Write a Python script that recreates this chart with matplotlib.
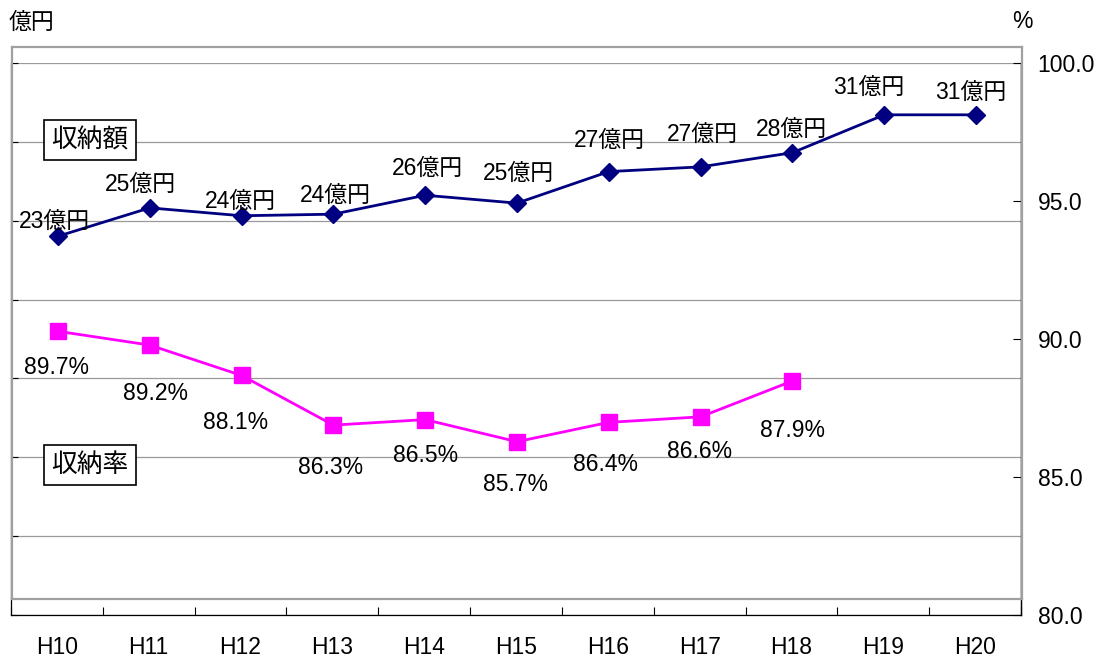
import numpy as np
import matplotlib.pyplot as plt

years = ['H10', 'H11', 'H12', 'H13', 'H14', 'H15', 'H16', 'H17', 'H18', 'H19', 'H20']
amount = [23.0, 24.8, 24.3, 24.4, 25.6, 25.1, 27.1, 27.4, 28.3, 30.7, 30.7]
amount_labels = ['23億円', '25億円', '24億円', '24億円', '26億円', '25億円',
                 '27億円', '27億円', '28億円', '31億円', '31億円']
rate = [89.7, 89.2, 88.1, 86.3, 86.5, 85.7, 86.4, 86.6, 87.9]
rate_ticks = [80, 85, 90, 95, 100]

# label offsets in pixels (dx, dy)
amount_off = [(-3, 15), (-9, 23), (-1, 14), (2, 19), (2, 27), (1, 30),
              (1, 31), (2, 32), (-1, 23), (-16, 27), (-5, 22)]
rate_off = [(-1, -36), (6, -48), (-6, -47), (-3, -42), (0, -36), (-1, -43),
            (-3, -42), (-1, -35), (0, -50)]

FONT = ['Liberation Sans', 'Noto Sans CJK JP']
plt.rcParams['font.family'] = FONT
FS = 16.5

W, H = 1101, 659
fig = plt.figure(figsize=(W / 100, H / 100), dpi=100)


def px_rect(l, t, r, b):
    return [l / W, 1 - b / H, (r - l) / W, (b - t) / H]


# axis frame with grid and ticks
ax = fig.add_axes(px_rect(11, 63, 1021, 615))
ax.set_xlim(-0.5, 10.5)
ax.set_ylim(0, 35)
ax.set_yticks(np.arange(0, 36, 5))
ax.set_yticklabels([])
ax.grid(axis='y', color='#9a9a9a', lw=0.9)
ax.set_axisbelow(True)
ax.spines['top'].set_visible(False)
for s in ['left', 'bottom', 'right']:
    ax.spines[s].set_linewidth(0.9)
ax.tick_params(axis='y', direction='in', length=5, width=0.8)
ax.set_xticks(range(len(years)))
ax.set_xticklabels(years, fontsize=FS)
ax.tick_params(axis='x', which='major', length=0, pad=15)
ax.set_xticks(np.arange(-0.5, len(years), 1), minor=True)
ax.tick_params(axis='x', which='minor', direction='in', length=6, width=0.8)

ax2 = ax.twinx()
ax2.set_ylim(80, 100)
ax2.set_yticks(rate_ticks)
ax2.set_yticklabels(['%.1f' % t for t in rate_ticks], fontsize=FS)
ax2.tick_params(axis='y', direction='in', length=6, width=0.8, pad=12)
for s in ['left', 'top', 'bottom']:
    ax2.spines[s].set_visible(False)
ax2.spines['right'].set_linewidth(0.9)

# plot area (drawn a bit higher, grey frame)
axd = fig.add_axes(px_rect(12, 47, 1022, 599))
axd.patch.set_alpha(0)
axd.set_xlim(-0.5, 10.5)
axd.set_ylim(0, 35)
axd.set_xticks([])
axd.set_yticks([])
for s in axd.spines.values():
    s.set_color('#a0a0a0')
    s.set_linewidth(1.6)

axd.plot(range(len(amount)), amount, color='#000080', lw=2,
         marker='D', ms=9, mfc='#000080', mec='#000080')
for i, (v, lab) in enumerate(zip(amount, amount_labels)):
    axd.annotate(lab, (i, v), xytext=amount_off[i], textcoords='offset pixels',
                 ha='center', va='center', fontsize=FS)

axd2 = axd.twinx()
axd2.set_ylim(80, 100)
axd2.set_yticks([])
for s in axd2.spines.values():
    s.set_visible(False)
axd2.plot(range(len(rate)), rate, color='#ff00ff', lw=2,
          marker='s', ms=11, mfc='#ff00ff', mec='#ff00ff')
for i, v in enumerate(rate):
    axd2.annotate('%.1f%%' % v, (i, v), xytext=rate_off[i], textcoords='offset pixels',
                  ha='center', va='center', fontsize=FS)

box = dict(boxstyle='square,pad=0.3', fc='white', ec='black', lw=1.2)
fig.text(90 / W, 1 - 140 / H, '収納額', fontsize=18.5, ha='center', va='center', bbox=box)
fig.text(90 / W, 1 - 465 / H, '収納率', fontsize=18.5, ha='center', va='center', bbox=box)

fig.text(31 / W, 1 - 22 / H, '億円', fontsize=FS, ha='center', va='center')
fig.text(1022 / W, 1 - 22 / H, '%', fontsize=FS, ha='center', va='center')

fig.savefig('out.png', dpi=100)
